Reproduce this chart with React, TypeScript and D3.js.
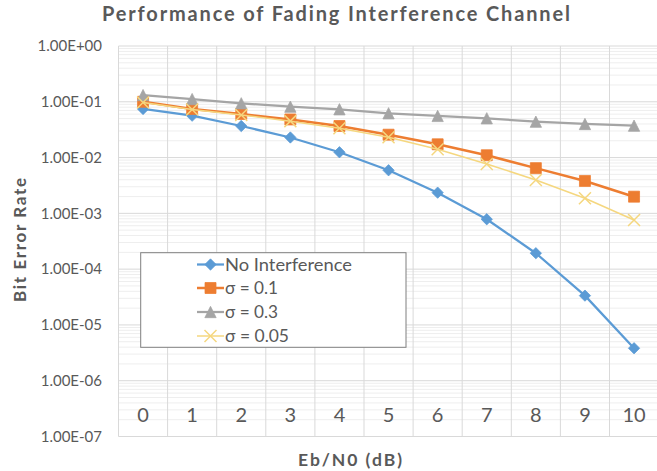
import React from "react";
import * as d3 from "d3";

// Eb/N0 categories (dB)
const categories = ["0", "1", "2", "3", "4", "5", "6", "7", "8", "9", "10"];

// bit error rate per series
const noInterference = [0.0743, 0.0563, 0.0368, 0.0229, 0.01245, 0.00592, 0.00235, 0.000784, 0.000193, 0.0000335, 0.00000382];
const sigma01 = [0.1, 0.0743, 0.0604, 0.0482, 0.0368, 0.0257, 0.0173, 0.011, 0.00646, 0.00381, 0.00199];
const sigma03 = [0.132, 0.112, 0.094, 0.0817, 0.0734, 0.0622, 0.0557, 0.0506, 0.044, 0.04, 0.0373];
const sigma005 = [0.097, 0.073, 0.058, 0.045, 0.0335, 0.0231, 0.0141, 0.00768, 0.00397, 0.00187, 0.000762];

const seriesNames = ["No Interference", "σ = 0.1", "σ = 0.3", "σ = 0.05"];
const yTickValues = [1, 1e-1, 1e-2, 1e-3, 1e-4, 1e-5, 1e-6, 1e-7];

const width = 657;
const height = 471;
const font = "Lato, 'Open Sans', sans-serif";
const textColor = "#595959";

// marker shapes, Excel style (square bounding box)
const diamond = {
  draw(ctx: any, size: number) {
    const r = Math.sqrt(size) / 2;
    ctx.moveTo(0, -r);
    ctx.lineTo(r, 0);
    ctx.lineTo(0, r);
    ctx.lineTo(-r, 0);
    ctx.closePath();
  },
};
const square = {
  draw(ctx: any, size: number) {
    const r = Math.sqrt(size) / 2;
    ctx.rect(-r, -r, 2 * r, 2 * r);
  },
};
const triangle = {
  draw(ctx: any, size: number) {
    const r = Math.sqrt(size) / 2;
    ctx.moveTo(0, -r);
    ctx.lineTo(r, r);
    ctx.lineTo(-r, r);
    ctx.closePath();
  },
};
const cross = {
  draw(ctx: any, size: number) {
    const r = Math.sqrt(size) / 2;
    ctx.moveTo(-r, -r);
    ctx.lineTo(r, r);
    ctx.moveTo(r, -r);
    ctx.lineTo(-r, r);
  },
};

const series = [
  { name: seriesNames[0], values: noInterference, color: "#5B9BD5", lineWidth: 2.25, symbol: diamond, size: 128, filled: true },
  { name: seriesNames[1], values: sigma01, color: "#ED7D31", lineWidth: 2.5, symbol: square, size: 121, filled: true },
  { name: seriesNames[2], values: sigma03, color: "#A5A5A5", lineWidth: 2.25, symbol: triangle, size: 128, filled: true },
  { name: seriesNames[3], values: sigma005, color: "#F5D77F", lineWidth: 1.5, symbol: cross, size: 144, filled: false },
];

function formatSci(v: number) {
  const [m, e] = v.toExponential(2).split("e");
  const n = Math.abs(+e);
  return `${m}E${+e < 0 ? "-" : "+"}${n < 10 ? "0" + n : n}`;
}

export default function App() {
  const plot = { left: 118.5, right: 658.6, top: 46, bottom: 436.5 };

  const x = d3.scaleBand<string>().domain(categories).range([plot.left, plot.right]).padding(0);
  const y = d3.scaleLog().domain([1e-7, 1]).range([plot.bottom, plot.top]);
  const cx = (c: string) => (x(c) ?? 0) + x.bandwidth() / 2;

  const minorTicks = y.ticks().filter((t) => !yTickValues.some((m) => Math.abs(m - t) / m < 1e-6));

  const line = d3
    .line<number>()
    .x((_, i) => cx(categories[i]))
    .y((d) => y(d));

  const marker = (s: any) => d3.symbol(s.symbol, s.size)() || "";

  const legend = { x: 140.7, y: 252.7, w: 265.3, h: 94.6 };
  const legendRows = [264.5, 288, 312, 336];
  const legendTextLen = [127, 53, 53, 64];

  return (
    <svg
      width={width}
      height={height}
      style={{ position: "absolute", left: 0, top: 0, background: "#fff" }}
      fontFamily={font}
    >
      <rect width={width} height={height} fill="#fff" />

      {/* minor horizontal gridlines */}
      <g stroke="#EEEEEE" strokeWidth={1}>
        {minorTicks.map((t, i) => (
          <line key={i} x1={plot.left} x2={plot.right} y1={y(t)} y2={y(t)} />
        ))}
      </g>
      {/* major horizontal gridlines */}
      <g stroke="#D9D9D9" strokeWidth={1}>
        {yTickValues.map((t) => (
          <line key={t} x1={plot.left} x2={plot.right} y1={y(t)} y2={y(t)} />
        ))}
      </g>
      {/* vertical gridlines at category boundaries */}
      <g stroke="#D9D9D9" strokeWidth={1}>
        {categories.map((c) => (
          <line key={c} x1={x(c)} x2={x(c)} y1={plot.top} y2={plot.bottom} />
        ))}
        <line x1={plot.right} x2={plot.right} y1={plot.top} y2={plot.bottom} />
      </g>

      {/* y tick labels */}
      <g fill={textColor} fontSize={15} textAnchor="end">
        {yTickValues.map((t) => (
          <text key={t} x={102} y={y(t)} dy="0.35em">
            {formatSci(t)}
          </text>
        ))}
      </g>

      {/* x category labels */}
      <g fill={textColor} fontSize={20} textAnchor="middle">
        {categories.map((c) => (
          <text key={c} x={cx(c)} y={421.7}>
            {c}
          </text>
        ))}
      </g>

      {/* series */}
      {series.map((s) => (
        <g key={s.name}>
          <path d={line(s.values) || ""} fill="none" stroke={s.color} strokeWidth={s.lineWidth} strokeLinejoin="round" />
          {s.values.map((v, i) => (
            <path
              key={i}
              d={marker(s)}
              transform={`translate(${cx(categories[i])},${y(v)})`}
              fill={s.filled ? s.color : "none"}
              stroke={s.color}
              strokeWidth={s.filled ? 0.75 : 1.5}
            />
          ))}
        </g>
      ))}

      {/* legend */}
      <rect x={legend.x} y={legend.y} width={legend.w} height={legend.h} fill="#fff" stroke="#7F7F7F" strokeWidth={1} />
      {series.map((s, i) => (
        <g key={s.name}>
          <line x1={197} x2={224} y1={legendRows[i]} y2={legendRows[i]} stroke={s.color} strokeWidth={s.lineWidth} />
          <path
            d={marker(s)}
            transform={`translate(210.5,${legendRows[i]})`}
            fill={s.filled ? s.color : "none"}
            stroke={s.color}
            strokeWidth={s.filled ? 0.75 : 1.5}
          />
          <text
            x={225}
            y={legendRows[i]}
            dy="0.35em"
            fontSize={17.5}
            fill={textColor}
            textLength={legendTextLen[i]}
            lengthAdjust="spacingAndGlyphs"
          >
            {s.name}
          </text>
        </g>
      ))}

      {/* title */}
      <text x={102} y={21} fontSize={20} fontWeight="bold" fill={textColor} textLength={468} lengthAdjust="spacing">
        Performance of Fading Interference Channel
      </text>

      {/* axis titles */}
      <text
        transform={`translate(25.5,240) rotate(-90)`}
        textAnchor="middle"
        fontSize={17}
        fontWeight="bold"
        fill={textColor}
        textLength={124}
        lengthAdjust="spacing"
      >
        Bit Error Rate
      </text>
      <text x={298} y={466} fontSize={17.5} fontWeight="bold" fill={textColor} textLength={104} lengthAdjust="spacing">
        Eb/N0 (dB)
      </text>
    </svg>
  );
}
